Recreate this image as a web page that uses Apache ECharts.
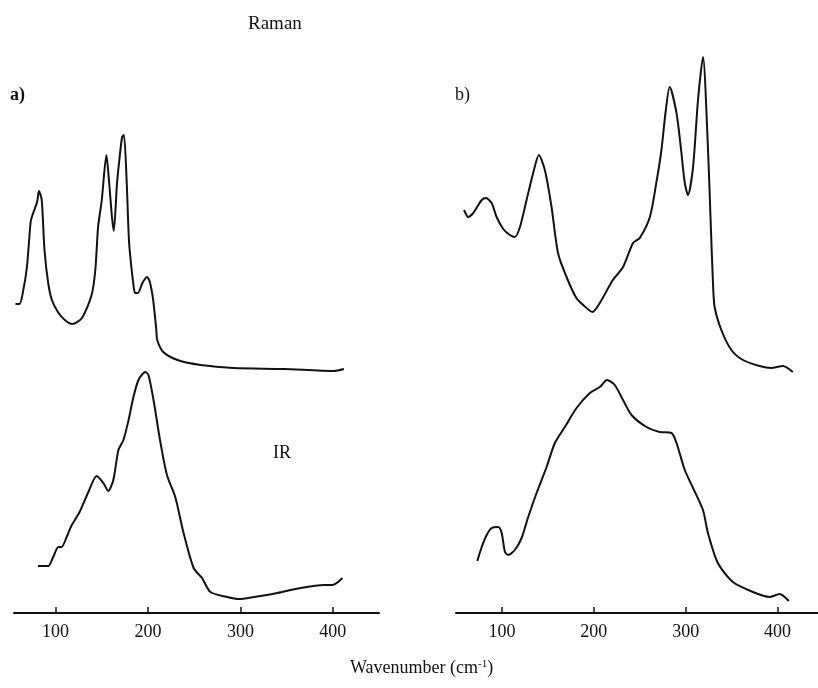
<!DOCTYPE html>
<html>
<head>
<meta charset="utf-8">
<script src="https://cdn.jsdelivr.net/npm/echarts@6/dist/echarts.min.js"></script>
<style>html,body{margin:0;padding:0;background:#fff}#c{width:818px;height:688px}</style>
</head>
<body>
<div id="c"></div>
<script>
// Tick labels (wavenumber, cm-1)
var tickValues = [100, 200, 300, 400];

// Panel a) Raman spectrum: wavenumber and intensity (arbitrary units, offset trace)
var ramanA_x = [56.6, 61, 64.5, 69, 73, 75, 80, 82, 85, 88, 92, 96, 102.5, 110, 118, 128.5, 139, 143, 146, 150, 155, 158, 161, 163, 166.5, 169, 172, 174, 177, 179.6, 184, 186, 189, 194, 199, 202, 205.6, 209, 210, 216.5, 232, 257, 292.5, 347, 401, 412];
var ramanA_y = [309, 309, 320, 346, 391, 398, 411, 422, 413, 363, 330, 313, 301, 293, 289, 295, 318, 343, 386, 413, 458, 430, 396, 382, 430, 453, 476, 478, 430, 370, 330, 320, 320, 330, 336, 331, 313, 283, 273, 261, 253, 248, 245, 244, 242, 244];

// Panel a) IR spectrum
var irA_x = [81, 92, 97.4, 103, 106.5, 112, 117, 126, 135, 144.5, 151.7, 157, 162.5, 168, 173.4, 179, 184, 189.7, 197, 200.5, 206, 213, 220.5, 229.5, 238.5, 249.4, 258.5, 267.5, 285.7, 298, 314.5, 340, 365, 390.5, 399.7, 410.5];
var irA_y = [47, 47, 56, 66, 66, 76, 87, 101, 120, 137, 130, 122, 133, 163, 173, 193, 215, 233, 241, 238, 213, 173, 138, 116, 80, 45, 35, 21, 16, 14, 16, 20, 25, 28, 28, 35];

// Panel b) Raman spectrum
var ramanB_x = [58.7, 63.4, 68.8, 73, 78, 82.6, 88.8, 94.2, 101.4, 108.7, 114, 119.6, 126.8, 134, 140.2, 146.7, 154, 161, 170.3, 181, 188.4, 198.6, 206.5, 220.7, 231.8, 242.7, 250, 261, 268, 273.6, 278, 282.6, 290, 295, 299, 302.5, 308, 313.4, 318.8, 324, 327, 329.7, 331.5, 338.8, 349.7, 362.3, 380.4, 393, 405.8, 416.6];
var ramanB_y = [403, 396, 400, 406, 413, 415, 410, 396, 384, 378, 376, 386, 413, 440, 458, 443, 406, 360, 336, 315, 308, 301, 310, 333, 346, 370, 375, 396, 430, 463, 500, 526, 500, 463, 430, 418, 446, 513, 556, 470, 396, 330, 306, 283, 263, 253, 247, 245, 247, 241];

// Panel b) IR spectrum
var irB_x = [73.2, 78, 83.4, 88.8, 96, 99.7, 103.3, 106.8, 114, 121.4, 128.6, 137.7, 148.6, 157.6, 168.5, 181.2, 195.7, 206.5, 214.5, 222.8, 231.8, 241, 257.3, 271.7, 284.5, 290, 299, 308, 318.8, 324.2, 335, 351.4, 373.2, 391.3, 402.2, 412.3];
var irB_y = [52, 66, 78, 85, 86, 80, 61, 58, 63, 75, 96, 120, 146, 170, 186, 205, 220, 226, 233, 228, 213, 198, 186, 181, 180, 170, 143, 125, 103, 80, 50, 31, 21, 16, 19, 12];

function pairs(xs, ys) { return xs.map(function (x, i) { return [x, ys[i]]; }); }

var serif = '"Liberation Serif", "DejaVu Serif", serif';
var ink = '#111';

function xAxis(idx, mn, mx) {
  return {
    type: 'value', gridIndex: idx, min: mn, max: mx,
    splitLine: { show: false },
    axisLine: { show: true, onZero: false, lineStyle: { color: ink, width: 2 } },
    axisTick: { show: true, inside: true, length: 6, lineStyle: { color: ink, width: 1.5 }, customValues: tickValues },
    axisLabel: { show: true, color: ink, fontFamily: serif, fontSize: 18, margin: 10, customValues: tickValues }
  };
}
function yAxis(idx) {
  return { type: 'value', gridIndex: idx, min: 0, max: 600, show: false };
}
function line(name, idx, data) {
  return {
    name: name, type: 'line', xAxisIndex: idx, yAxisIndex: idx, data: data,
    showSymbol: false, smooth: 0.25, lineStyle: { color: ink, width: 2 }, animation: false
  };
}

var chart = echarts.init(document.getElementById('c'), null, { renderer: 'canvas' });
chart.setOption({
  backgroundColor: '#fff',
  animation: false,
  grid: [
    { left: 14, width: 365, top: 13, height: 600 },
    { left: 456, width: 362, top: 13, height: 600 }
  ],
  xAxis: [xAxis(0, 55, 450), xAxis(1, 50, 444)],
  yAxis: [yAxis(0), yAxis(1)],
  series: [
    line('Raman a', 0, pairs(ramanA_x, ramanA_y)),
    line('IR a', 0, pairs(irA_x, irA_y)),
    line('Raman b', 1, pairs(ramanB_x, ramanB_y)),
    line('IR b', 1, pairs(irB_x, irB_y))
  ],
  graphic: [
    { type: 'text', left: 248, top: 15, style: { text: 'Raman', font: '19px ' + serif, fill: ink } },
    { type: 'text', left: 10, top: 86, style: { text: 'a)', font: 'bold 18px ' + serif, fill: ink } },
    { type: 'text', left: 455, top: 86, style: { text: 'b)', font: '18px ' + serif, fill: ink } },
    { type: 'text', left: 273, top: 444, style: { text: 'IR', font: '18px ' + serif, fill: ink } },
    { type: 'text', left: 350, top: 659, style: { rich: { n: { font: '18px ' + serif, fill: ink }, s: { font: '11px ' + serif, fill: ink, verticalAlign: 'top', padding: [0, 0, 7, 0] } }, text: '{n|Wavenumber (cm}{s|-1}{n|)}' } }
  ]
});
</script>
</body>
</html>
